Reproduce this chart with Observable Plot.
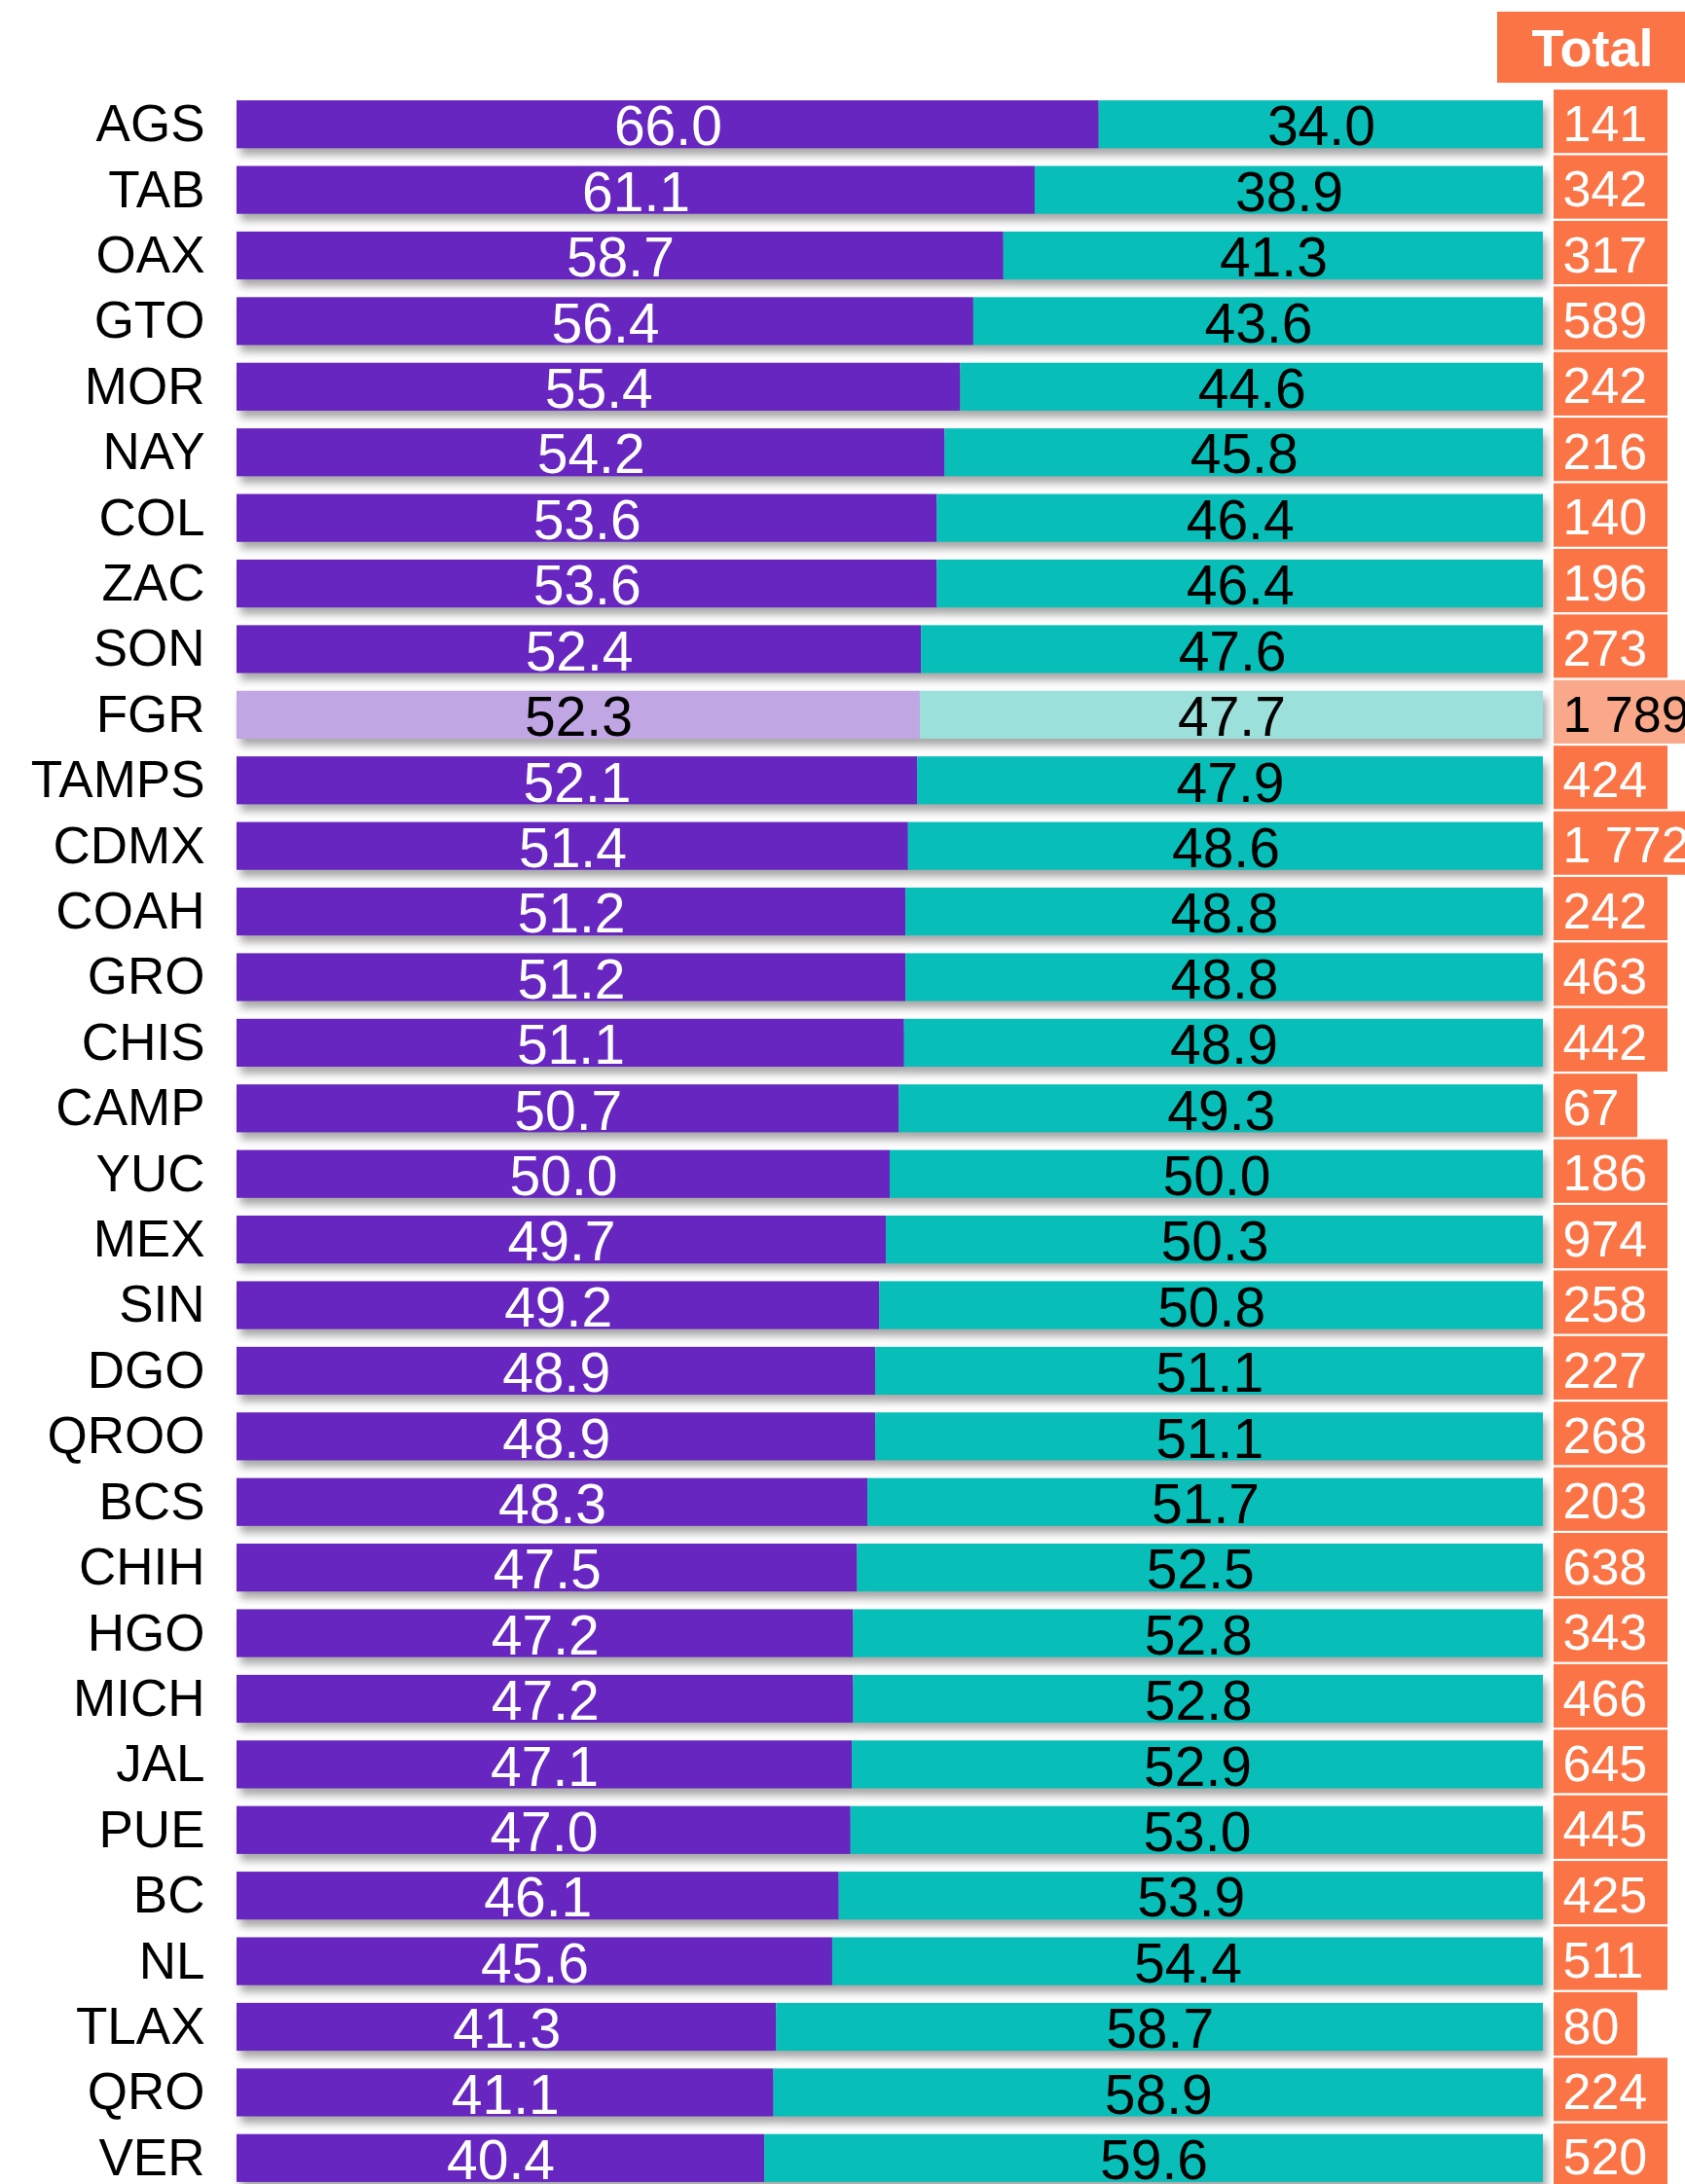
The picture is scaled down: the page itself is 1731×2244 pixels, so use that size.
<!DOCTYPE html>
<html><head><meta charset="utf-8">
<script src="https://cdn.jsdelivr.net/npm/d3@7"></script>
<script src="https://cdn.jsdelivr.net/npm/@observablehq/plot@0.6"></script>
<style>
html,body{margin:0;padding:0;background:#fff;overflow:hidden;}
#chart svg{display:block;}
</style>
</head><body><div id="chart"></div>
<script>
const states = ["AGS","TAB","OAX","GTO","MOR","NAY","COL","ZAC","SON","FGR","TAMPS","CDMX","COAH","GRO","CHIS","CAMP","YUC","MEX","SIN","DGO","QROO","BCS","CHIH","HGO","MICH","JAL","PUE","BC","NL","TLAX","QRO","VER"];
const seriesA = [66.0,61.1,58.7,56.4,55.4,54.2,53.6,53.6,52.4,52.3,52.1,51.4,51.2,51.2,51.1,50.7,50.0,49.7,49.2,48.9,48.9,48.3,47.5,47.2,47.2,47.1,47.0,46.1,45.6,41.3,41.1,40.4];
const seriesB = [34.0,38.9,41.3,43.6,44.6,45.8,46.4,46.4,47.6,47.7,47.9,48.6,48.8,48.8,48.9,49.3,50.0,50.3,50.8,51.1,51.1,51.7,52.5,52.8,52.8,52.9,53.0,53.9,54.4,58.7,58.9,59.6];
const totals = ["141","342","317","589","242","216","140","196","273","1 789","424","1 772","242","463","442","67","186","974","258","227","268","203","638","343","466","645","445","425","511","80","224","520"];
const highlight = "FGR";
const headerLabel = "Total";

const W = 1731, H = 2244;
const mLeft = 243, mRight = 146;
const pxPerUnit = (W - mLeft - mRight) / 100;

const segs = states.flatMap((s, i) => {
  const hl = s === highlight;
  return [
    {state: s, x1: 0, x2: seriesA[i], v: seriesA[i], key: hl ? "A-hl" : "A", txt: hl ? "#000" : "#fff"},
    {state: s, x1: seriesA[i], x2: seriesA[i] + seriesB[i], v: seriesB[i], key: hl ? "B-hl" : "B", txt: "#000"}
  ];
});

const boxStart = 100 + 10 / pxPerUnit;
const boxes = states.map((s, i) => {
  const t = totals[i];
  const digits = t.replace(/\s/g, "").length;
  const spaces = t.length - digits;
  const wpx = digits * 31 + spaces * 15 + 26;
  const hl = s === highlight;
  return {state: s, t, x1: boxStart, x2: boxStart + wpx / pxPerUnit, xt: boxStart + 10 / pxPerUnit,
          fill: hl ? "#F9A98A" : "#FB7446", txt: hl ? "#000" : "#fff"};
});

const font = "'Liberation Sans', Arial, Helvetica, sans-serif";

const plot = Plot.plot({
  width: W,
  height: H,
  marginLeft: mLeft,
  marginRight: mRight,
  marginTop: 0,
  marginBottom: 0,
  style: {fontFamily: font, background: "#fff"},
  x: {domain: [0, 100], axis: null},
  y: {domain: states, range: [94, 2251], round: false, paddingInner: 0.27, paddingOuter: 0.135, align: 0.5, axis: null},
  color: {domain: ["A", "B", "A-hl", "B-hl"], range: ["#6726C0", "#07BFB8", "#C0A6E3", "#9CE0DB"]},
  marks: [
    Plot.barX(segs, {y: "state", x1: "x1", x2: "x2", fill: "key"}),
    Plot.text(segs, {y: "state", x: d => (d.x1 + d.x2) / 2, text: d => d.v.toFixed(1), fill: "txt", fontSize: 57, dy: 3}),
    Plot.barX(boxes, {y: "state", x1: "x1", x2: "x2", fill: "fill", stroke: "#fff", strokeWidth: 2, insetTop: -12, insetBottom: -6}),
    Plot.text(boxes, {y: "state", x: "xt", text: "t", fill: "txt", textAnchor: "start", fontSize: 52, dy: 0}),
    Plot.axisY({tickSize: 0, tickPadding: 33, fontSize: 53, fill: "#000", label: null})
  ]
});

const svg = d3.select(plot);
svg.selectAll('g[aria-label="bar"]').filter((d, i) => i === 0)
  .style("filter", "drop-shadow(4px 7px 4px rgba(0,0,0,0.35))");

// "Total" column header
const hdr = svg.append("g").attr("font-family", font);
hdr.append("rect").attr("x", 1538).attr("y", 12).attr("width", 200).attr("height", 73).attr("fill", "#FB7446");
hdr.append("text").attr("x", 1636).attr("y", 68).attr("text-anchor", "middle")
  .attr("font-size", 54).attr("font-weight", "bold").attr("fill", "#fff").text(headerLabel);

document.getElementById("chart").appendChild(plot);
</script>
</body></html>
